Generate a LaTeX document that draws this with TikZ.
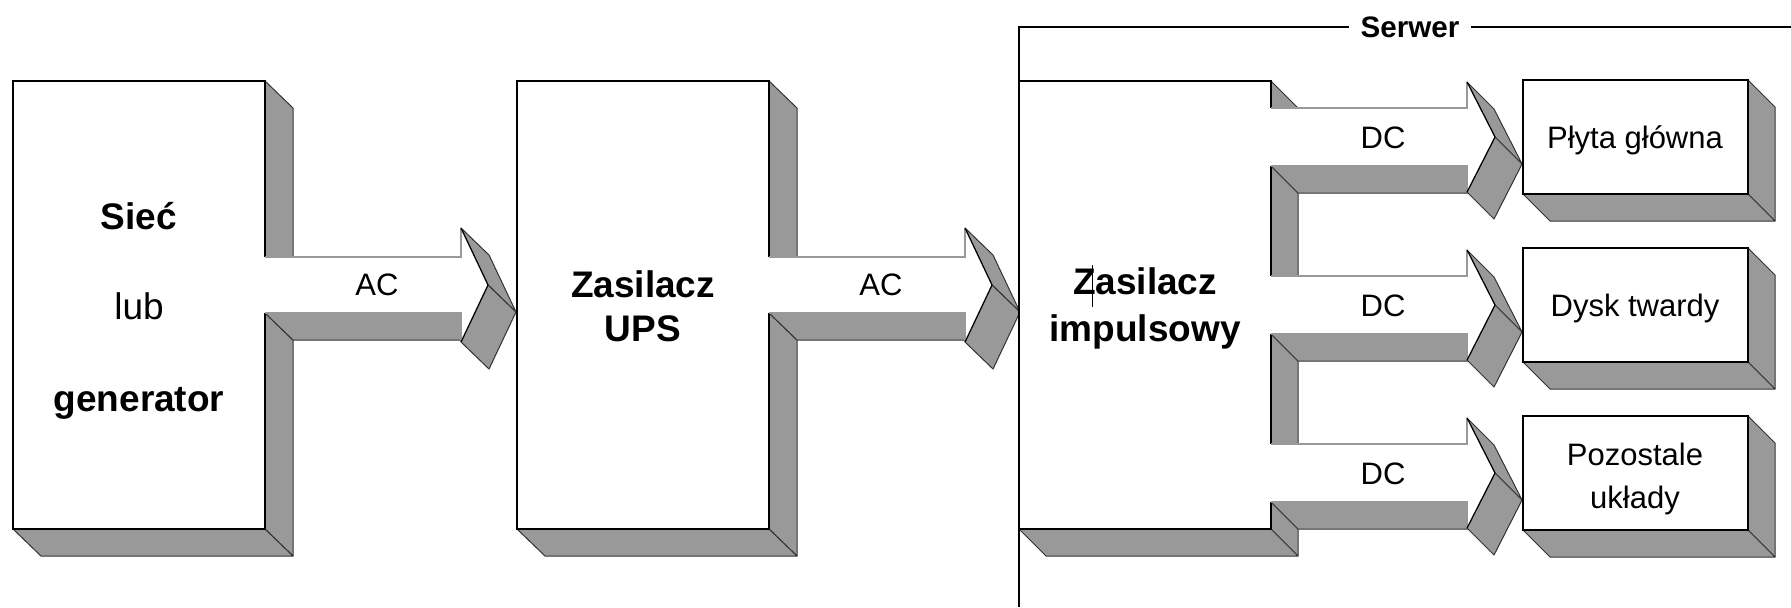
\documentclass[tikz,border=0pt]{standalone}
\usepackage{fontspec}
\setmainfont{Liberation Sans}
\definecolor{shade}{RGB}{153,153,153}
\begin{document}
\begin{tikzpicture}[x=0.5pt,y=-0.5pt,
  face/.style={fill=shade,draw=black!80,line width=0.5pt,line join=round},
  boxedge/.style={draw=black,line width=1pt,line join=miter},
  shaftedge/.style={draw=black!40,line width=0.9pt},
  headedge/.style={draw=black,line width=0.6pt,line join=round},
  frameline/.style={draw=black,line width=0.75pt},
  bigbold/.style={font=\fontsize{18.5}{22}\selectfont\bfseries,inner sep=0pt,text height=13.2pt,text depth=0pt},
  bigreg/.style={font=\fontsize{18.5}{22}\selectfont,inner sep=0pt,text height=13.2pt,text depth=0pt},
  smalltxt/.style={font=\fontsize{15.5}{18}\selectfont,inner sep=0pt,text height=11.1pt,text depth=0pt},
  serwtxt/.style={font=\fontsize{14.8}{17}\selectfont\bfseries,fill=white,inner xsep=5.5pt,inner ysep=0pt,text height=10.6pt,text depth=0pt},
]
\useasboundingbox (0,0) rectangle (1791,607);

% ---- Siec + AC arrow, UPS + AC arrow (same geometry, shifted) ----
\foreach \sx in {0,504}{
 \begin{scope}[shift={(\sx,0)}]
  \draw[face] (265,81) -- (265,257) -- (293,284) -- (293,108) -- cycle;
  \draw[face] (265,313) -- (265,529) -- (293,556) -- (293,340) -- cycle;
  \draw[face] (13,529) -- (265,529) -- (293,556) -- (41,556) -- cycle;
  \draw[face] (265,313) -- (461,313) -- (489,340) -- (293,340) -- cycle;
  \draw[face] (461,228) -- (488,285) -- (516,312) -- (489,255) -- cycle;
  \draw[face] (488,285) -- (461,342) -- (489,369) -- (516,312) -- cycle;
  \fill[white] (13,81) -- (265,81) -- (265,257) -- (461,257) -- (461,228) -- (488,285)
     -- (461,342) -- (461,313) -- (265,313) -- (265,529) -- (13,529) -- cycle;
  \draw[boxedge] (265,257) -- (265,81) -- (13,81) -- (13,529) -- (265,529) -- (265,313);
  \draw[shaftedge] (265,257) -- (461,257) -- (461,228);
  \draw[shaftedge] (461,342) -- (461,313) -- (265,313);
  \draw[headedge] (461,228) -- (488,285) -- (461,342);
 \end{scope}
}

% ---- Zasilacz impulsowy with three DC arrows ----
\draw[face] (1271,81) -- (1271,108) -- (1298,135) -- (1298,108) -- cycle;
\foreach \c in {137,305}{
  \draw[face] (1271,\c+29) -- (1271,\c+139) -- (1298,\c+166) -- (1298,\c+56) -- cycle;
}
\draw[face] (1271,502) -- (1271,529) -- (1298,556) -- (1298,529) -- cycle;
\draw[face] (1019,529) -- (1271,529) -- (1298,556) -- (1046,556) -- cycle;
\foreach \c in {137,305,473}{
  \draw[face] (1271,\c+29) -- (1467,\c+29) -- (1494,\c+56) -- (1298,\c+56) -- cycle;
  \draw[face] (1467,\c-55) -- (1495,\c) -- (1522,\c+27) -- (1494,\c-28) -- cycle;
  \draw[face] (1495,\c) -- (1467,\c+55) -- (1494,\c+82) -- (1522,\c+27) -- cycle;
}
\fill[white] (1019,81) -- (1271,81) -- (1271,108) -- (1467,108) -- (1467,82) -- (1495,137)
  -- (1467,192) -- (1467,166) -- (1271,166) -- (1271,276) -- (1467,276) -- (1467,250)
  -- (1495,305) -- (1467,360) -- (1467,334) -- (1271,334) -- (1271,444) -- (1467,444)
  -- (1467,418) -- (1495,473) -- (1467,528) -- (1467,502) -- (1271,502) -- (1271,529)
  -- (1019,529) -- cycle;
\draw[boxedge] (1271,108) -- (1271,81) -- (1019,81) -- (1019,529) -- (1271,529) -- (1271,502);
\draw[boxedge] (1271,166) -- (1271,276);
\draw[boxedge] (1271,334) -- (1271,444);
\foreach \c in {137,305,473}{
  \draw[shaftedge] (1271,\c-29) -- (1467,\c-29) -- (1467,\c-55);
  \draw[shaftedge] (1467,\c+55) -- (1467,\c+29) -- (1271,\c+29);
  \draw[headedge] (1467,\c-55) -- (1495,\c) -- (1467,\c+55);
}

% ---- small boxes ----
\foreach \c in {137,305,473}{
  \draw[face] (1748,\c-57) -- (1748,\c+57) -- (1775,\c+84) -- (1775,\c-30) -- cycle;
  \draw[face] (1523,\c+57) -- (1748,\c+57) -- (1775,\c+84) -- (1550,\c+84) -- cycle;
  \draw[boxedge,fill=white] (1523,\c-57) rectangle (1748,\c+57);
}

% ---- Serwer frame ----
\node[serwtxt] (serwer) at (1410,27) {Serwer};
\coordinate (fcorner) at (1019,27);
\coordinate (fbottom) at (1019,607);
\coordinate (fright) at (1791,27);
\draw[frameline] (fbottom) -- (fcorner) -- (serwer.west);
\draw[frameline] (serwer.east) -- (fright);

% ---- texts ----
\node[bigbold] (t1a) at (139,216) {Sieć};
\node[bigreg]  (t1b) at (139,306) {lub};
\node[bigbold] (t1c) at (139,398) {generator};
\node[bigbold] (t2a) at (643,284) {Zasilacz};
\node[bigbold] (t2b) at (643,328) {UPS};
\node[bigbold] (t3a) at (1145,281) {Zasilacz};
\node[bigbold] (t3b) at (1145,328) {impulsowy};
\draw[line width=0.5pt] (1092,265) -- (1092,307);
\node[smalltxt] (ac1) at (377,284) {AC};
\node[smalltxt] (ac2) at (881,284) {AC};
\node[smalltxt] (dc1) at (1383,137) {DC};
\node[smalltxt] (dc2) at (1383,305) {DC};
\node[smalltxt] (dc3) at (1383,473) {DC};
\node[smalltxt] (b1) at (1635,137) {Płyta główna};
\node[smalltxt] (b2) at (1635,305) {Dysk twardy};
\node[smalltxt] (b3a) at (1635,454) {Pozostale};
\node[smalltxt] (b3b) at (1635,497) {układy};
\end{tikzpicture}
\end{document}
